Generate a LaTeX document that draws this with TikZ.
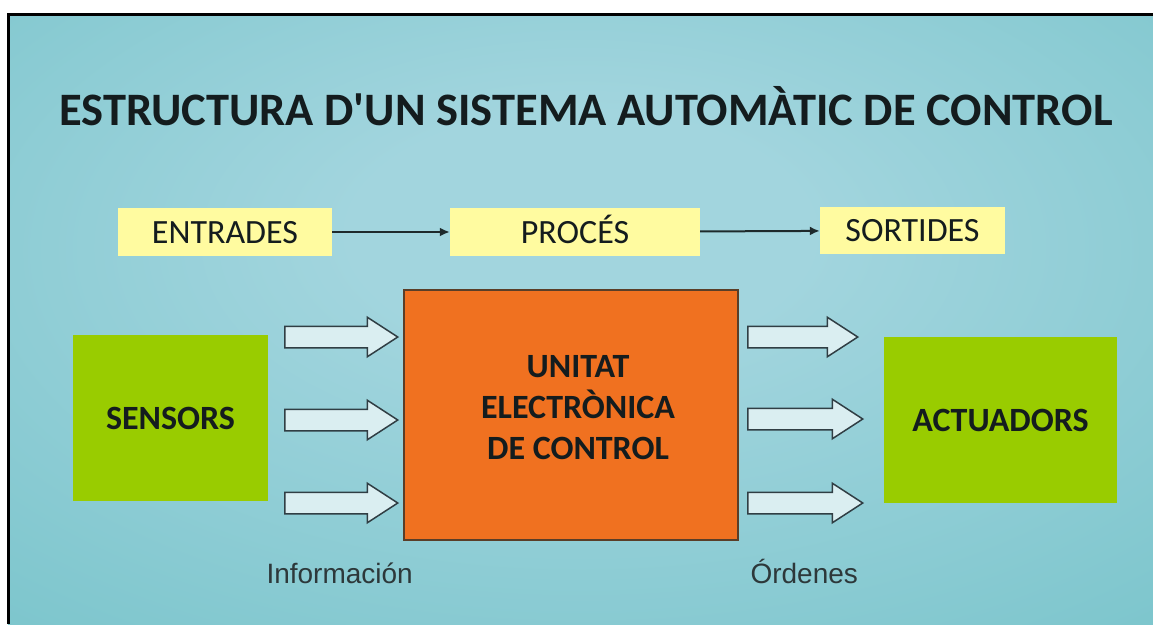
\documentclass[tikz,border=0pt]{standalone}
\usepackage{fontspec}
\setmainfont{Carlito}
\newfontfamily\labelfont{Liberation Sans}
\usetikzlibrary{shapes.arrows,arrows.meta}

\definecolor{bglight}{RGB}{162,213,222}
\definecolor{bgdark}{RGB}{104,189,195}
\definecolor{boxyellow}{RGB}{255,251,160}
\definecolor{boxgreen}{RGB}{153,204,0}
\definecolor{boxorange}{RGB}{240,113,32}
\definecolor{ecuborder}{RGB}{90,62,40}
\definecolor{arrowfill}{RGB}{218,238,241}
\definecolor{arrowline}{RGB}{48,62,68}
\definecolor{flowcolor}{RGB}{30,42,44}
\definecolor{titlecolor}{RGB}{20,28,30}
\definecolor{labelgray}{RGB}{45,56,58}

\pgfdeclareradialshading{bgglow}{\pgfpoint{0bp}{8bp}}{color(0bp)=(bglight); color(10bp)=(bglight); color(55bp)=(bgdark); color(80bp)=(bgdark)}

\begin{document}
\begin{tikzpicture}[x=1pt, y=-1pt,
    stagebox/.style={fill=boxyellow, inner sep=0pt, minimum height=48, text height=22, text depth=0, text=titlecolor, font=\fontsize{34}{40}\selectfont},
    devicebox/.style={fill=boxgreen, inner sep=0pt, minimum height=166, text=titlecolor, font=\bfseries\fontsize{34}{40}\selectfont},
    ecubox/.style={fill=boxorange, draw=ecuborder, line width=1.2pt, inner sep=0pt, minimum width=334, minimum height=250},
    ecutext/.style={align=center, text=titlecolor, font=\bfseries\fontsize{34}{41}\selectfont},
    infoarrow/.style={single arrow, anchor=tail, draw=arrowline, fill=arrowfill, line width=1.5pt, inner sep=10pt, minimum width=38, single arrow head extend=9, single arrow tip angle=66},
    flowarrow/.style={draw=flowcolor, line width=2pt, -{Latex[length=10pt,width=9pt]}},
    sidelabel/.style={anchor=base west, text=labelgray, font=\labelfont\fontsize{28}{32}\selectfont}]
    % fons i marc
    \useasboundingbox (0,0) rectangle (1153,624);
    \fill[white] (0,0) rectangle (1153,624);
    \shade[shading=bgglow] (8,14) rectangle (1153,624);
    \draw[line width=3pt] (8.5,624) -- (8.5,14.5) -- (1153,14.5);

    \node[anchor=base, text=titlecolor, font=\bfseries\fontsize{46.5}{54}\selectfont] (title) at (586,125) {ESTRUCTURA D\textquotesingle UN SISTEMA AUTOMÀTIC DE CONTROL};

    % entrades - proces - sortides
    \node[stagebox, minimum width=214] (entrades) at (225,232) {ENTRADES};
    \node[stagebox, minimum width=250] (proces) at (575,232) {PROCÉS};
    \node[stagebox, minimum width=185, minimum height=47] (sortides) at (912.5,230.5) {SORTIDES};
    \draw[flowarrow] (entrades) -- (proces);
    \draw[flowarrow] (proces) -- (sortides);

    % blocs
    \node[devicebox, minimum width=195] (sensors) at (170.5,418) {SENSORS};
    \node[ecubox] (ecu) at (571,415) {};
    \node[ecutext] (ecutitle) at (578,408) {UNITAT\\ELECTRÒNICA\\DE CONTROL};
    \node[devicebox, minimum width=233] (actuadors) at (1000.5,420) {ACTUADORS};

    % fletxes d'informacio i ordres
    \node[infoarrow, minimum height=113] (info1) at (284,337) {};
    \node[infoarrow, minimum height=113] (info2) at (284,420) {};
    \node[infoarrow, minimum height=113] (info3) at (284,503) {};
    \node[infoarrow, minimum height=110] (ordre1) at (747,337) {};
    \node[infoarrow, minimum height=115] (ordre2) at (747,419) {};
    \node[infoarrow, minimum height=115] (ordre3) at (747,503) {};

    \node[sidelabel] (informacio) at (263,583) {Información};
    \node[sidelabel] (ordres) at (747,583) {Órdenes};
\end{tikzpicture}
\end{document}
